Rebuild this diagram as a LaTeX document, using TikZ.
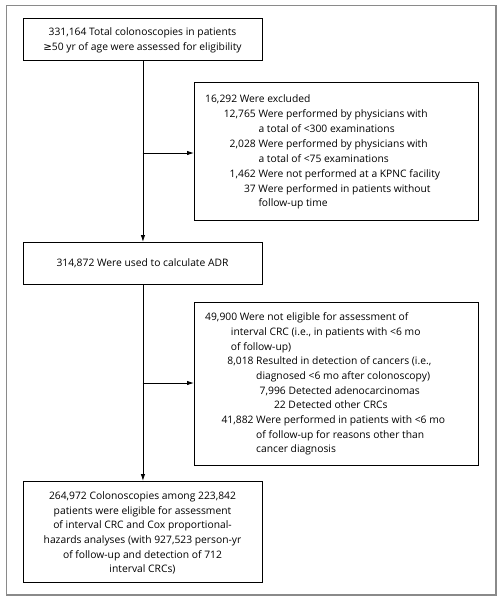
\documentclass[tikz,border=0pt]{standalone}
\usepackage{fontspec}
\setmainfont{Open Sans}
\newfontfamily\symf{DejaVu Sans}
\usetikzlibrary{arrows.meta}
\definecolor{framegray}{HTML}{8A8A8A}
\begin{document}
\begin{tikzpicture}[x=1pt,y=-1pt,
  font=\fontsize{10.3}{12}\selectfont,
  box/.style={draw=black, line width=0.9pt, inner sep=0pt, anchor=north west},
  txt/.style={inner sep=0pt, anchor=base west},
  ctxt/.style={inner sep=0pt, anchor=base},
  arr/.style={-{Latex[length=7pt,width=4.5pt]}, line width=0.9pt}]
\useasboundingbox (0,0) rectangle (503,600);
\draw[draw=framegray, line width=1.8pt] (6.5,5.5) rectangle (496,595);
% boxes
\node[box, minimum width=239pt, minimum height=42pt] (b1) at (23,18) {};
\node[box, minimum width=284pt, minimum height=138pt] (b2) at (194,82) {};
\node[box, minimum width=239pt, minimum height=42pt] (b3) at (23,242) {};
\node[box, minimum width=284pt, minimum height=163pt] (b4) at (194,302) {};
\node[box, minimum width=239pt, minimum height=101pt] (b5) at (23,481) {};
% connectors
\draw[arr] (b1.south) -- (b3.north);
\coordinate (j1) at (142.5,153);
\draw[arr] (j1) -- (j1 -| b2.west);
\draw[arr] (b3.south) -- (b5.north);
\coordinate (j2) at (142.5,383);
\draw[arr] (j2) -- (j2 -| b4.west);
% box 1
\node[ctxt] (t1a) at (142.5,35.8) {331,164 Total colonoscopies in patients};
\node[ctxt] (t1b) at (142.5,50.2) {{\symf ≥}50 yr of age were assessed for eligibility};
% box 2
\node[txt] (t2a) at (205,102.8) {16,292 Were excluded};
\node[txt] (t2b) at (258.3,117.7) {\llap{12,765\ }Were performed by physicians with};
\node[txt] (t2c) at (258.3,132.5) {a total of <300 examinations};
\node[txt] (t2d) at (258.3,147.4) {\llap{2,028\ }Were performed by physicians with};
\node[txt] (t2e) at (258.3,162.2) {a total of <75 examinations};
\node[txt] (t2f) at (258.3,177.1) {\llap{1,462\ }Were not performed at a KPNC facility};
\node[txt] (t2g) at (258.3,192.0) {\llap{37\ }Were performed in patients without};
\node[txt] (t2h) at (258.3,206.8) {follow-up time};
% box 3
\node[ctxt] (t3) at (142.5,266.2) {314,872 Were used to calculate ADR};
% box 4
\node[txt] (t4a) at (205,320.8) {49,900 Were not eligible for assessment of};
\node[txt] (t4b) at (230.7,335.5) {interval CRC (i.e., in patients with <6 mo};
\node[txt] (t4c) at (230.7,350.1) {of follow-up)};
\node[txt] (t4d) at (256,364.8) {\llap{8,018\ }Resulted in detection of cancers (i.e.,};
\node[txt] (t4e) at (256,379.5) {diagnosed <6 mo after colonoscopy)};
\node[txt] (t4f) at (288.3,394.2) {\llap{7,996\ }Detected adenocarcinomas};
\node[txt] (t4g) at (288.3,408.8) {\llap{22\ }Detected other CRCs};
\node[txt] (t4h) at (256,423.5) {\llap{41,882\ }Were performed in patients with <6 mo};
\node[txt] (t4i) at (256,438.2) {of follow-up for reasons other than};
\node[txt] (t4j) at (256,452.8) {cancer diagnosis};
% box 5
\node[ctxt] (t5a) at (142.5,499.5) {264,972 Colonoscopies among 223,842};
\node[ctxt] (t5b) at (142.5,514.2) {patients were eligible for assessment};
\node[ctxt] (t5c) at (142.5,528.8) {of interval CRC and Cox proportional-};
\node[ctxt] (t5d) at (142.5,543.5) {hazards analyses (with 927,523 person-yr};
\node[ctxt] (t5e) at (142.5,558.2) {of follow-up and detection of 712};
\node[ctxt] (t5f) at (142.5,572.8) {interval CRCs)};
\end{tikzpicture}
\end{document}
